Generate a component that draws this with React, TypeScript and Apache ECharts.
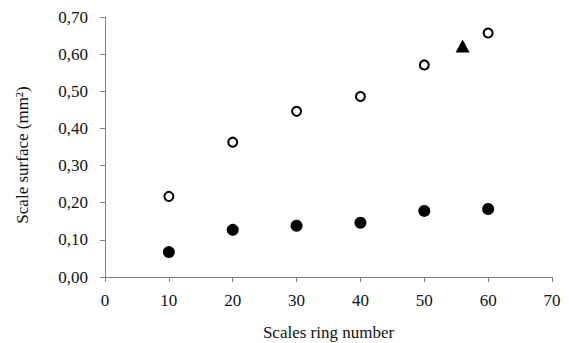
import React, { useEffect, useRef } from "react";
import * as echarts from "echarts";

const ringNumbers = [10, 20, 30, 40, 50, 60];
const openValues = [0.217, 0.363, 0.446, 0.486, 0.571, 0.657];
const filledValues = [0.067, 0.127, 0.138, 0.146, 0.178, 0.183];
const trianglePoint = [[56, 0.622]];

const xTitle = "Scales ring number";
const yTitle = "Scale surface (mm²)";

export default function App() {
  const ref = useRef<HTMLDivElement>(null);
  useEffect(() => {
    if (!ref.current) return;
    const chart = echarts.init(ref.current, null, { renderer: "svg" });
    const font = "'Liberation Serif', serif";
    chart.setOption({
      animation: false,
      backgroundColor: "#ffffff",
      textStyle: { fontFamily: font },
      grid: { left: 105, right: 17, top: 17, bottom: 66, outerBoundsMode: "none", containLabel: false },
      graphic: [
        {
          type: "text",
          x: 22,
          y: 155,
          rotation: Math.PI / 2,
          style: {
            text: yTitle,
            fontFamily: font,
            fontSize: 17,
            fill: "#111",
            align: "center",
            verticalAlign: "middle",
          },
        },
      ],
      xAxis: {
        type: "value",
        min: 0,
        max: 70,
        interval: 10,
        name: xTitle,
        nameLocation: "middle",
        nameGap: 47,
        nameTextStyle: { fontFamily: font, fontSize: 17, color: "#111" },
        axisLine: { show: true, lineStyle: { color: "#808080", width: 1 } },
        axisTick: { show: true, length: 5, inside: false, lineStyle: { color: "#808080" } },
        axisLabel: { fontFamily: font, fontSize: 17, color: "#111", margin: 15 },
        splitLine: { show: false },
      },
      yAxis: {
        type: "value",
        min: 0,
        max: 0.7,
        interval: 0.1,
        axisLine: { show: true, lineStyle: { color: "#808080", width: 1 } },
        axisTick: { show: true, length: 5, lineStyle: { color: "#808080" } },
        axisLabel: {
          fontFamily: font,
          fontSize: 17,
          color: "#111",
          margin: 17,
          formatter: (v: number) => v.toFixed(2).replace(".", ","),
        },
        splitLine: { show: false },
      },
      series: [
        {
          type: "scatter",
          name: "open",
          data: ringNumbers.map((x, i) => [x, openValues[i]]),
          symbol: "circle",
          symbolSize: 9,
          itemStyle: { color: "#ffffff", borderColor: "#000000", borderWidth: 2, opacity: 1 },
        },
        {
          type: "scatter",
          name: "filled",
          data: ringNumbers.map((x, i) => [x, filledValues[i]]),
          symbol: "circle",
          symbolSize: 12,
          itemStyle: { color: "#000000", opacity: 1 },
        },
        {
          type: "scatter",
          name: "triangle",
          data: trianglePoint,
          symbol: "triangle",
          symbolSize: [14, 13],
          itemStyle: { color: "#000000", opacity: 1 },
        },
      ],
    });
    return () => chart.dispose();
  }, []);
  return (
    <div
      ref={ref}
      style={{ position: "fixed", left: 0, top: 0, width: 569, height: 343 }}
    />
  );
}
